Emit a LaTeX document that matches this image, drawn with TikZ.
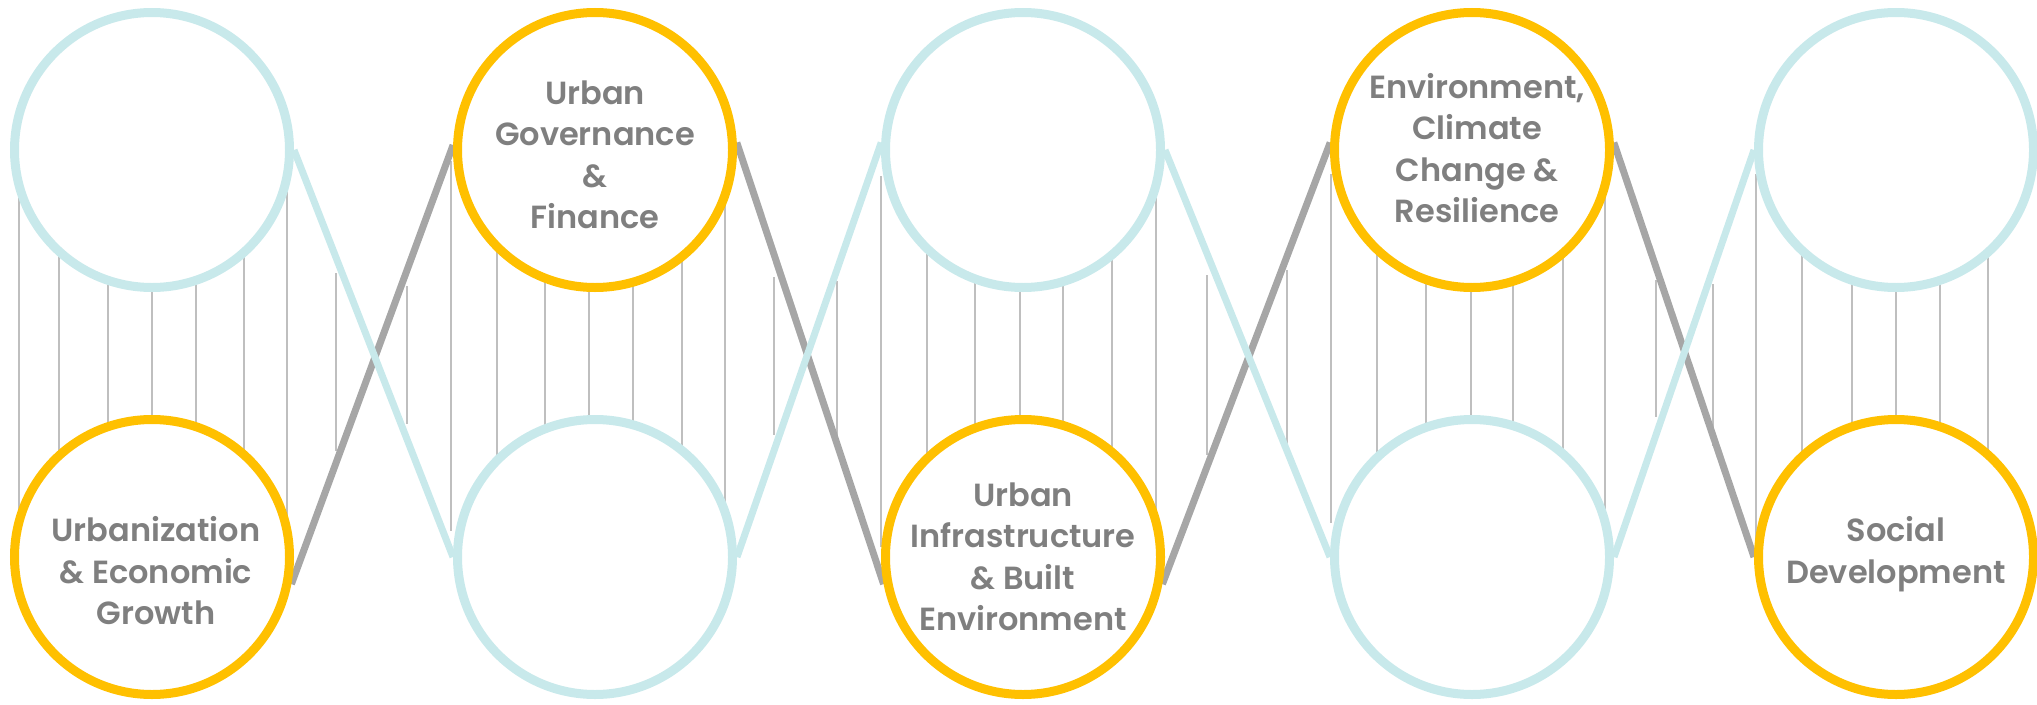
\documentclass[tikz,border=0pt]{standalone}
\usepackage{fontspec}
\setmainfont{Poppins}[BoldFont={Poppins SemiBold}]
\definecolor{cyanl}{HTML}{C8E9EB}
\definecolor{gold}{HTML}{FFC000}
\definecolor{thickgray}{HTML}{A6A6A6}
\definecolor{thingray}{HTML}{BFBFBF}
\definecolor{txtgray}{HTML}{7F7F7F}
\pgfdeclarelayer{bg}
\pgfdeclarelayer{mid}
\pgfsetlayers{bg,mid,main}
\begin{document}
\begin{tikzpicture}[x=1pt,y=-1pt,
  ring/.style={circle, minimum size=275pt, inner sep=0pt, line width=9pt, fill=white},
  bluering/.style={ring, draw=cyanl},
  goldring/.style={ring, draw=gold},
  rung/.style={draw=thingray, line width=2.5pt},
  bluelink/.style={draw=cyanl, line width=7pt},
  graylink/.style={draw=thickgray, line width=7pt},
  lbl/.style={text=txtgray, font=\fontsize{32}{41.5}\selectfont\bfseries, align=center}
]
\useasboundingbox (0,0) rectangle (2037,704);
% circles
\node[bluering] (c1t) at (152,150) {};
\node[goldring] (c1b) at (152,557) {};
\node[goldring] (c2t) at (595,150) {};
\node[bluering] (c2b) at (595,557) {};
\node[bluering] (c3t) at (1023,150) {};
\node[goldring] (c3b) at (1023,557) {};
\node[goldring] (c4t) at (1472,150) {};
\node[bluering] (c4b) at (1472,557) {};
\node[bluering] (c5t) at (1896,150) {};
\node[goldring] (c5b) at (1896,557) {};
% labels
\node[lbl] (t1) at (156,571) {Urbanization\\\& Economic\\Growth};
\node[lbl] (t2) at (595,155) {Urban\\Governance\\\&\\Finance};
\node[lbl] (t3) at (1023,557) {Urban\\Infrastructure\\\& Built\\Environment};
\node[lbl] (t4) at (1477,148) {Environment,\\Climate\\Change \&\\Resilience};
\node[lbl] (t5) at (1896,554) {Social\\Development};
% connectors
\begin{pgfonlayer}{mid}
\draw[graylink] (c1b.-11) -- (c2t.178);
\draw[graylink] (c2t.3) -- (c3b.191);
\draw[graylink] (c3b.-11) -- (c4t.177);
\draw[graylink] (c4t.3) -- (c5b.180);
\draw[bluelink] (c1t.0) -- (c2b.180);
\draw[bluelink] (c2b.0) -- (c3t.177);
\draw[bluelink] (c3t.0) -- (c4b.180);
\draw[bluelink] (c4b.0) -- (c5t.180);
\end{pgfonlayer}
% rungs
\begin{pgfonlayer}{bg}
\foreach \x in {19,59,108,152,196,244,287,497,545,589,633,682,725,927,975,1020,1063,1112,1156,1377,1426,1471,1513,1563,1605,1802,1852,1896,1940,1988}
  \draw[rung] (\x,150) -- (\x,557);
\foreach \x/\a/\b in {451/161/531,881/176/547,1331/174/523,1756/174/561,336/273/451,407/286/424,774/277/435,837/281/435,1207/275/455,1287/270/446,1656/280/417,1713/284/446}
  \draw[rung] (\x,\a) -- (\x,\b);
\end{pgfonlayer}
\end{tikzpicture}
\end{document}
